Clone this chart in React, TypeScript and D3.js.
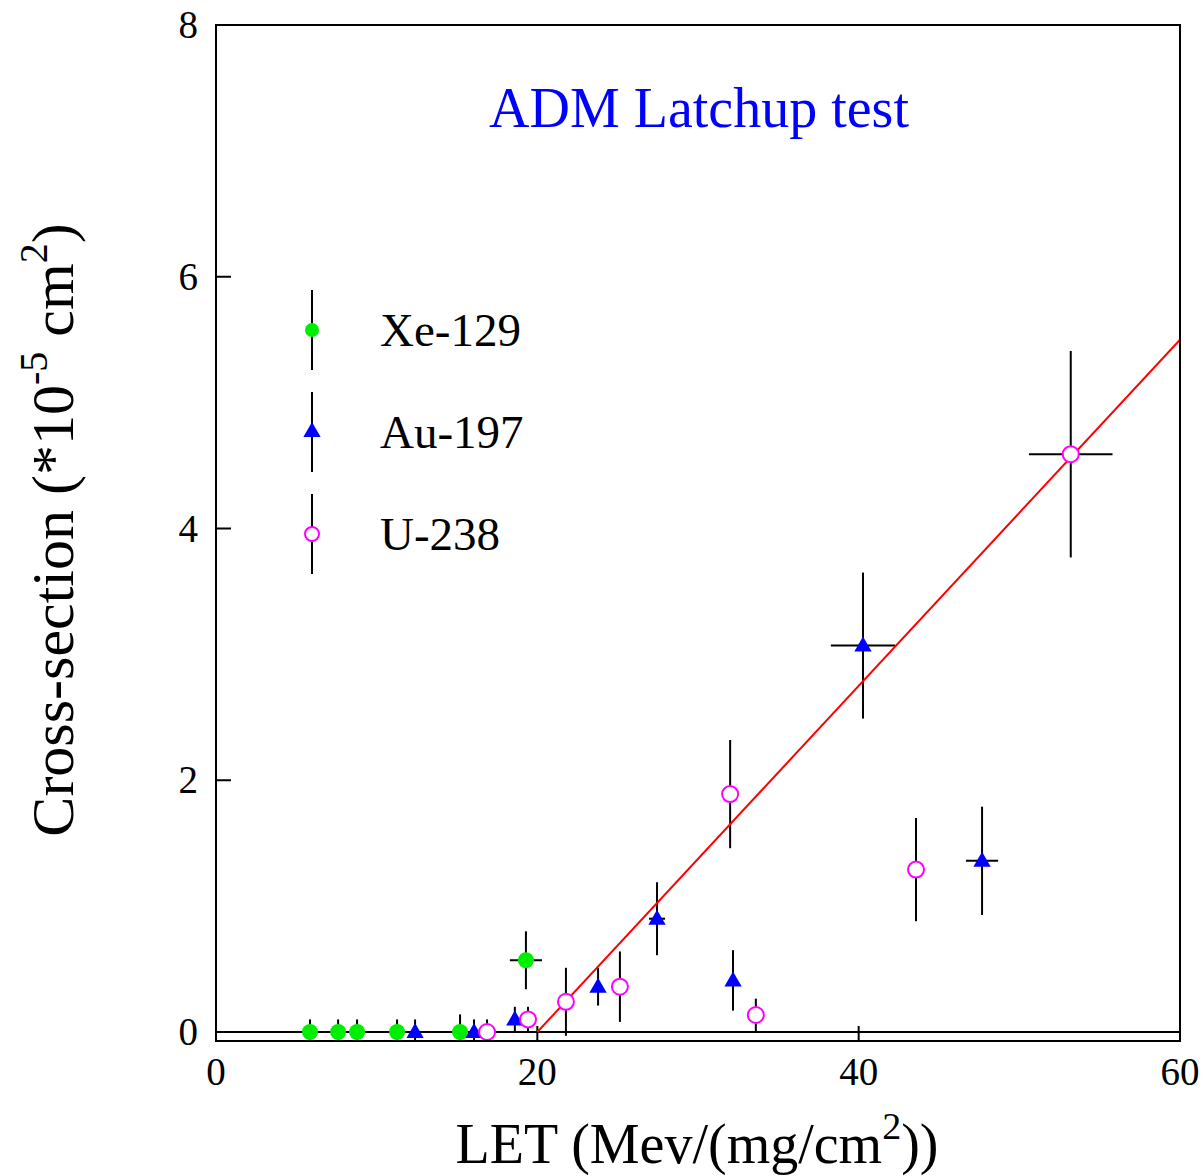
import React from "react";
import * as d3 from "d3";

const xeLET = [5.85, 7.6, 8.78, 11.27, 15.19, 19.29];
const xeCS = [0, 0, 0, 0, 0, 0.57];
const xeErrY = [0.1, 0.1, 0.1, 0.1, 0.14, 0.23];
const xeErrX = [0, 0, 0, 0, 0, 1.0];

const auLET = [12.39, 16.06, 18.6, 23.78, 27.45, 32.18, 40.27, 47.68];
const auCS = [0, 0, 0.1, 0.36, 0.9, 0.41, 3.07, 1.36];
const auErrY = [0.1, 0.1, 0.1, 0.15, 0.29, 0.24, 0.58, 0.43];
const auErrX = [0, 0, 0, 0, 0.5, 0, 2.0, 1.0];

const uLET = [16.87, 19.42, 21.78, 25.14, 32.0, 33.6, 43.57, 53.2];
const uCS = [0, 0.1, 0.24, 0.36, 1.89, 0.135, 1.29, 4.59];
const uErrY = [0.1, 0.1, 0.27, 0.28, 0.43, 0.13, 0.41, 0.82];
const uErrX = [0, 0, 0, 0, 0, 0, 0, 2.6];

const fitX = [20, 60];
const fitY = [0, 5.5];

const xTicks = [0, 20, 40, 60];
const yTicks = [0, 2, 4, 6, 8];

const seriesNames = ["Xe-129", "Au-197", "U-238"];

const FONT = "'Liberation Serif', 'Times New Roman', serif";

export default function App() {
  const left = 216, right = 1180, top = 25, bottom = 1041;
  const x = d3.scaleLinear().domain([0, 60]).range([left, right]);
  const y = d3.scaleLinear().domain([0, 8]).range([1032, 25]);

  const mk = (xs: number[], ys: number[], ey: number[], ex: number[]) =>
    xs.map((v, i) => ({ x: v, y: ys[i], ey: ey[i], ex: ex[i] }));
  const xe = mk(xeLET, xeCS, xeErrY, xeErrX);
  const au = mk(auLET, auCS, auErrY, auErrX);
  const u = mk(uLET, uCS, uErrY, uErrX);

  const tri = d3.symbol().type(d3.symbolTriangle).size(130)()!;

  const errBars = (pts: typeof xe, key: string) =>
    pts.map((p, i) => (
      <g key={key + i} stroke="#000" strokeWidth={2}>
        {p.ey > 0 && (
          <line x1={x(p.x)} x2={x(p.x)} y1={y(p.y - p.ey)} y2={y(p.y + p.ey)} />
        )}
        {p.ex > 0 && (
          <line x1={x(p.x - p.ex)} x2={x(p.x + p.ex)} y1={y(p.y)} y2={y(p.y)} />
        )}
      </g>
    ));

  const fitLine = d3
    .line<number>()
    .x((d) => x(d))
    .y((_, i) => y(fitY[i]))(fitX);

  const legendY = [330, 432, 534];

  return (
    <svg width={1204} height={1176} style={{ display: "block", position: "absolute", left: 0, top: 0 }}>
      <rect width={1204} height={1176} fill="#fff" />
      <defs>
        <clipPath id="plot">
          <rect x={left} y={top} width={right - left} height={bottom - top} />
        </clipPath>
      </defs>
      {/* zero line */}
      <line x1={left} x2={right} y1={y(0)} y2={y(0)} stroke="#000" strokeWidth={2} />
      {/* ticks */}
      {yTicks.map((t) => (
        <line key={"yt" + t} x1={left} x2={left + 15} y1={y(t)} y2={y(t)} stroke="#000" strokeWidth={2} />
      ))}
      {xTicks.map((t) => (
        <line key={"xt" + t} x1={x(t)} x2={x(t)} y1={bottom} y2={bottom - 15} stroke="#000" strokeWidth={2} />
      ))}
      <g clipPath="url(#plot)">
        {errBars(xe, "xe")}
        {errBars(au, "au")}
        {errBars(u, "u")}
        <path d={fitLine!} stroke="#ff0000" strokeWidth={2} fill="none" />
        {xe.map((p, i) => (
          <circle key={"xc" + i} cx={x(p.x)} cy={y(p.y)} r={8} fill="#00ee00" />
        ))}
        {au.map((p, i) => (
          <path key={"at" + i} d={tri} transform={`translate(${x(p.x)},${y(p.y) + 1})`} fill="#0000ff" />
        ))}
        {u.map((p, i) => (
          <circle key={"uc" + i} cx={x(p.x)} cy={y(p.y)} r={8} fill="#fff" stroke="#ff00ff" strokeWidth={2} />
        ))}
      </g>
      {/* frame */}
      <rect x={left} y={top} width={right - left} height={bottom - top} fill="none" stroke="#000" strokeWidth={2} />
      {/* tick labels */}
      {yTicks.map((t) => (
        <text key={"yl" + t} x={198} y={y(t) + 13} textAnchor="end" fontFamily={FONT} fontSize={39}>
          {t}
        </text>
      ))}
      {xTicks.map((t) => (
        <text key={"xl" + t} x={x(t)} y={1085} textAnchor="middle" fontFamily={FONT} fontSize={39}>
          {t}
        </text>
      ))}
      {/* title */}
      <text x={699} y={127} textAnchor="middle" fontFamily={FONT} fontSize={56} fill="#0000ff">
        ADM Latchup test
      </text>
      {/* legend */}
      {seriesNames.map((n, i) => (
        <g key={n}>
          <line x1={312} x2={312} y1={legendY[i] - 40} y2={legendY[i] + 40} stroke="#000" strokeWidth={2} />
          {i === 0 && <circle cx={312} cy={legendY[i]} r={7} fill="#00ee00" />}
          {i === 1 && <path d={tri} transform={`translate(312,${legendY[i]})`} fill="#0000ff" />}
          {i === 2 && <circle cx={312} cy={legendY[i]} r={7} fill="#fff" stroke="#ff00ff" strokeWidth={2} />}
          <text x={380} y={legendY[i] + 16} fontFamily={FONT} fontSize={47}>
            {n}
          </text>
        </g>
      ))}
      {/* axis labels */}
      <text x={697} y={1163} textAnchor="middle" fontFamily={FONT} fontSize={56}>
        LET (Mev/(mg/cm
        <tspan dy={-24} fontSize={38}>2</tspan>
        <tspan dy={24}>))</tspan>
      </text>
      <text
        transform="translate(73,530) rotate(-90)"
        textAnchor="middle"
        fontFamily={FONT}
        fontSize={60}
      >
        Cross-section (*10
        <tspan dy={-26} fontSize={40}>-5</tspan>
        <tspan dy={26}> cm</tspan>
        <tspan dy={-26} fontSize={40}>2</tspan>
        <tspan dy={26}>)</tspan>
      </text>
    </svg>
  );
}
